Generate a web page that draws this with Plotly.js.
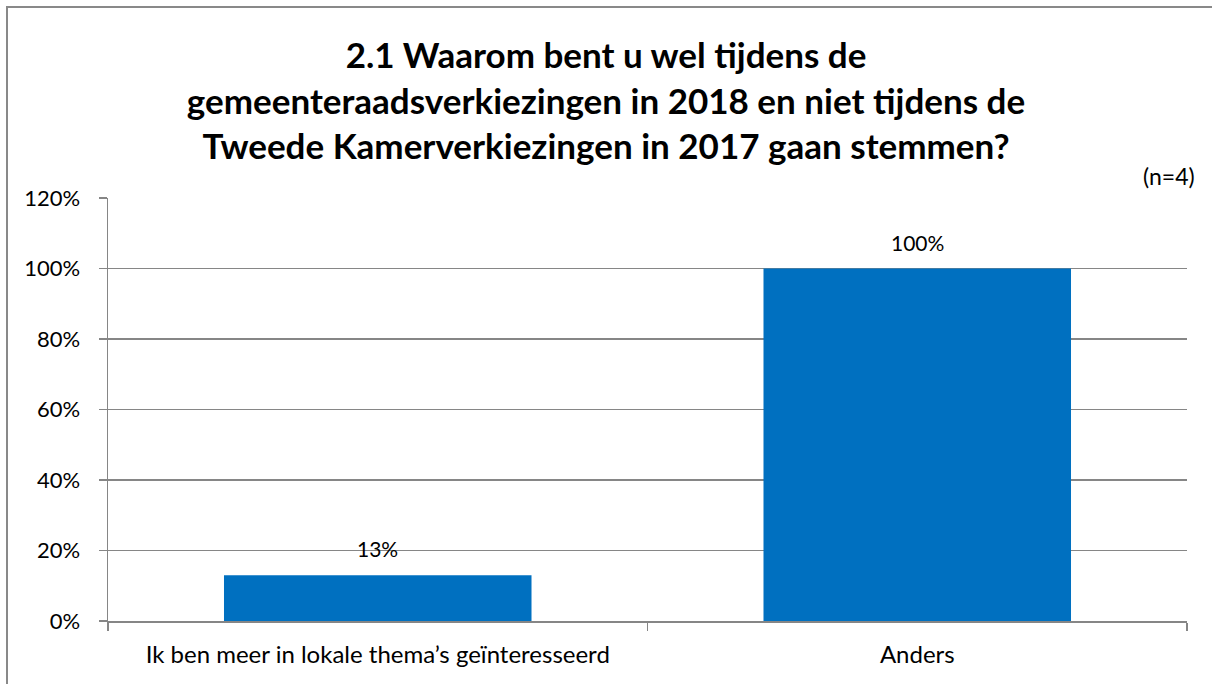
<!DOCTYPE html>
<html>
<head>
<meta charset="utf-8">
<script src="https://cdn.plot.ly/plotly-3.0.1.min.js"></script>
<style>
html, body { margin: 0; padding: 0; overflow: hidden; background: #fff; }
#chart { position: absolute; left: 0; top: 0; width: 1212px; height: 684px; }
#frame { position: absolute; left: 6px; top: 6px; width: 1300px; height: 800px; border: 2px solid #898989; pointer-events: none; }
</style>
</head>
<body>
<div id="chart"></div>
<div id="frame"></div>
<script>
const categories = ["Ik ben meer in lokale thema\u2019s ge\u00efnteresseerd", "Anders"];
const values = [0.13, 1.00];
const titleText = "2.1 Waarom bent u wel tijdens de<br>gemeenteraadsverkiezingen in 2018 en niet tijdens de<br>Tweede Kamerverkiezingen in 2017 gaan stemmen?";
const noteText = "(n=4)";
const yTicks = [0, 0.2, 0.4, 0.6, 0.8, 1.0, 1.2];

const font = "Lato, 'Open Sans', sans-serif";

const trace = {
  type: "bar",
  x: categories,
  y: values,
  marker: { color: "#0070C0" },
  hoverinfo: "none"
};

const valueLabels = categories.map((c, i) => ({
  x: c, y: values[i], xref: "x", yref: "y",
  text: Math.round(values[i] * 100) + "%",
  showarrow: false, yanchor: "bottom", yshift: 12,
  font: { family: font, size: 21, color: "#000" }
}));

const layout = {
  width: 1212,
  height: 684,
  margin: { l: 108, r: 25, t: 198, b: 63 },
  paper_bgcolor: "#fff",
  plot_bgcolor: "#fff",
  font: { family: font, size: 21, color: "#000" },
  bargap: 0.43,
  showlegend: false,
  title: {
    text: titleText,
    font: { family: font, size: 35, color: "#000", weight: "bold" },
    x: 0.5, xanchor: "center",
    xref: "container", yref: "container",
    y: 1 - 68 / 684, yanchor: "top"
  },
  xaxis: {
    type: "category",
    showline: true, linecolor: "#868686", linewidth: 1.5,
    ticks: "outside", tickson: "boundaries", ticklen: 8, tickcolor: "#868686", tickwidth: 1.5,
    showgrid: false,
    tickfont: { family: font, size: 24, color: "#000" },
    ticklabelstandoff: 12,
    automargin: false
  },
  yaxis: {
    range: [0, 1.2],
    tickvals: yTicks,
    tickformat: ".0%",
    showline: true, linecolor: "#868686", linewidth: 1.5,
    ticks: "outside", ticklen: 8, tickcolor: "#868686", tickwidth: 1.5,
    showgrid: true, gridcolor: "#868686", gridwidth: 1.5,
    zeroline: false,
    tickfont: { family: font, size: 22, color: "#000" },
    ticklabelstandoff: 14,
    automargin: false
  },
  annotations: valueLabels.concat([{
    text: noteText,
    xref: "paper", yref: "paper",
    x: 1, y: 1, xanchor: "right", yanchor: "bottom",
    xshift: 10, yshift: 6,
    showarrow: false,
    font: { family: font, size: 23, color: "#000" }
  }])
};

Plotly.newPlot("chart", [trace], layout, { displayModeBar: false, staticPlot: true });
</script>
</body>
</html>
